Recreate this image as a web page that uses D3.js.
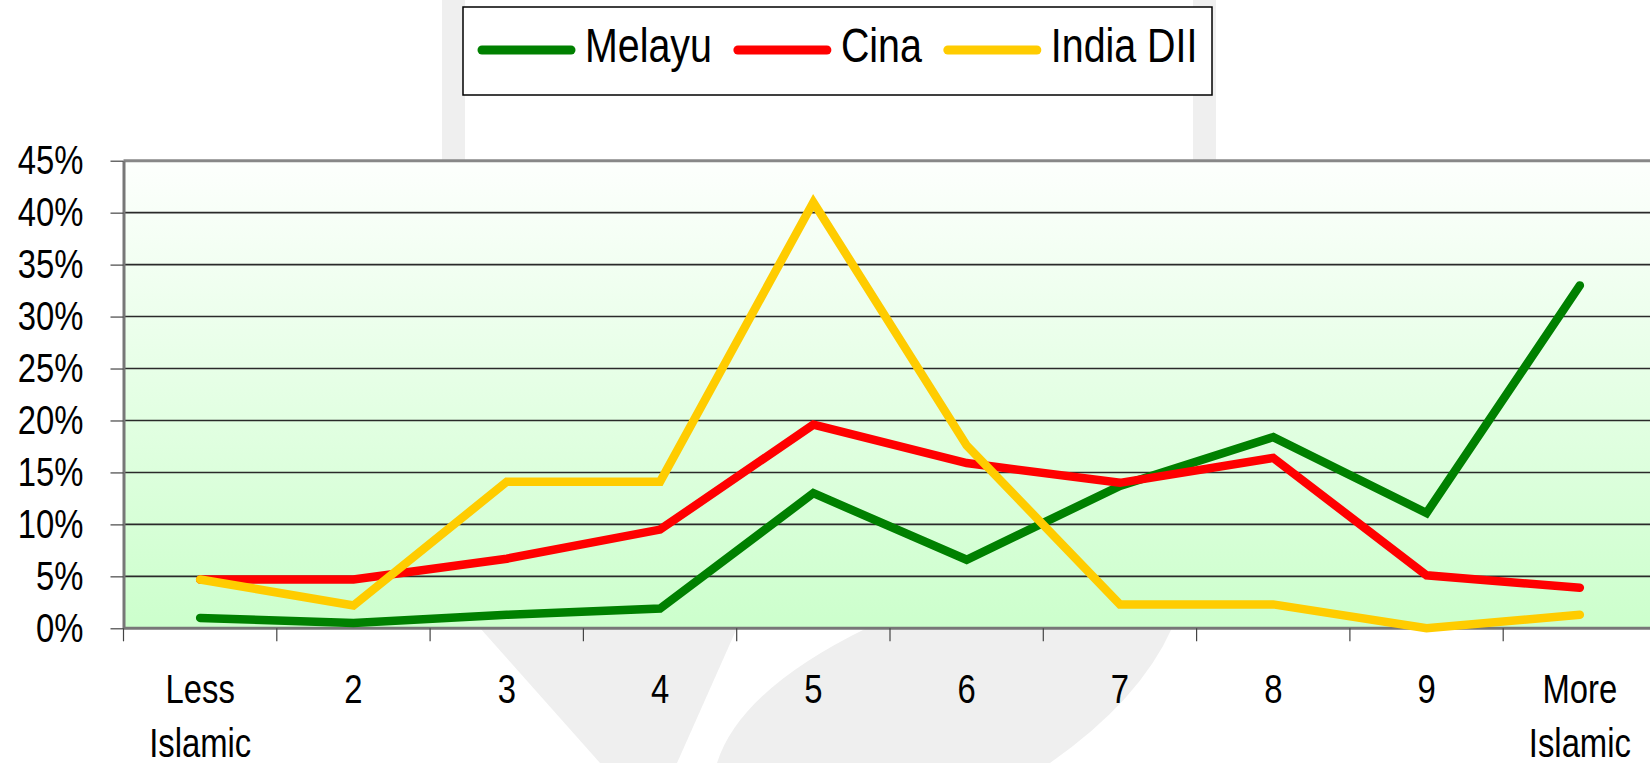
<!DOCTYPE html>
<html>
<head>
<meta charset="utf-8">
<script src="https://cdn.jsdelivr.net/npm/d3@7"></script>
<style>
  html, body { margin: 0; padding: 0; background: #fff; }
  svg { display: block; }
  text { font-family: "Liberation Sans", Arial, sans-serif; fill: #000; }
</style>
</head>
<body>
<div id="chart"></div>
<script>
// categories (x axis), two-line labels
const categories = ['Less\nIslamic', '2', '3', '4', '5', '6', '7', '8', '9', 'More\nIslamic'];

// series values in percent
const melayu = [1.0, 0.5, 1.3, 1.9, 13.0, 6.6, 13.7, 18.4, 11.1, 33.0];
const cina = [4.7, 4.7, 6.7, 9.5, 19.6, 15.9, 14.0, 16.4, 5.1, 3.9];
const indiaDll = [4.7, 2.2, 14.1, 14.1, 41.0, 17.6, 2.3, 2.3, 0.0, 1.3];

const seriesNames = ['Melayu', 'Cina', 'India DII'];
const seriesColors = ['#008000', '#ff0000', '#ffcc00'];
const yTicks = [0, 5, 10, 15, 20, 25, 30, 35, 40, 45];

const series = [melayu, cina, indiaDll].map((values, i) => ({
  name: seriesNames[i], color: seriesColors[i], values: values
}));

const width = 1650, height = 763;
const plot = { left: 123.5, right: 1656.5, top: 160.7, bottom: 628.3 };
const narrow = 0.82; // the original uses a narrow face

// squeeze text horizontally to mimic a narrow font
function condense(sel) {
  sel.each(function () {
    const len = this.getComputedTextLength();
    d3.select(this)
      .attr('textLength', len * narrow)
      .attr('lengthAdjust', 'spacingAndGlyphs');
  });
}

const svg = d3.select('#chart').append('svg')
  .attr('width', width)
  .attr('height', height);

// **faint watermark behind the chart**
const wm = svg.append('g').attr('fill', '#efefef');
wm.append('rect').attr('x', 442).attr('y', 0).attr('width', 23).attr('height', 162);
wm.append('rect').attr('x', 1193).attr('y', 0).attr('width', 23).attr('height', 162);
wm.append('path').attr('d', 'M480,628 L737,628 L677,763 L600,763 Z');
wm.append('path').attr('d', 'M867,628 L1172,628 Q1140,700 1050,763 L717,763 Q740,690 867,628 Z');

const x = d3.scaleBand()
  .domain(categories)
  .range([plot.left, plot.right])
  .padding(0);

const y = d3.scaleLinear()
  .domain([0, 45])
  .range([plot.bottom, plot.top]);

// **plot background gradient**
const grad = svg.append('defs').append('linearGradient')
  .attr('id', 'bg')
  .attr('x1', '0%').attr('y1', '0%')
  .attr('x2', '0%').attr('y2', '100%');
grad.append('stop').attr('offset', '0%').attr('stop-color', '#fdfffd');
grad.append('stop').attr('offset', '100%').attr('stop-color', '#ccffcc');

svg.append('rect')
  .attr('x', plot.left).attr('y', plot.top)
  .attr('width', plot.right - plot.left)
  .attr('height', plot.bottom - plot.top)
  .attr('fill', 'url(#bg)');

// **gridlines**
svg.append('g').selectAll('line')
  .data(yTicks.filter(d => d > 0 && d < 45))
  .join('line')
  .attr('x1', plot.left).attr('x2', plot.right)
  .attr('y1', d => y(d)).attr('y2', d => y(d))
  .attr('stroke', '#2a2a2a')
  .attr('stroke-width', 1.6);

// top border
svg.append('line')
  .attr('x1', plot.left).attr('x2', plot.right)
  .attr('y1', y(45)).attr('y2', y(45))
  .attr('stroke', '#888').attr('stroke-width', 3);

// **Y axis**
const yAxis = svg.append('g')
  .attr('transform', `translate(${plot.left},0)`)
  .call(d3.axisLeft(y).tickValues(yTicks).tickSize(13).tickSizeOuter(0).tickPadding(27).tickFormat(d => d + '%'));
yAxis.select('.domain').attr('stroke', '#777').attr('stroke-width', 3);
yAxis.selectAll('.tick line').attr('stroke', '#444').attr('stroke-width', 1.2);
yAxis.selectAll('.tick text')
  .attr('font-size', 40)
  .attr('dy', '0.33em')
  .attr('font-family', null)
  .call(condense);

// **X axis**
const xAxis = svg.append('g')
  .attr('transform', `translate(0,${plot.bottom})`);
xAxis.append('line')
  .attr('x1', plot.left).attr('x2', plot.right)
  .attr('stroke', '#777').attr('stroke-width', 3);
xAxis.selectAll('line.tick')
  .data(categories)
  .join('line')
  .attr('class', 'tick')
  .attr('x1', d => x(d)).attr('x2', d => x(d))
  .attr('y1', 0).attr('y2', 13)
  .attr('stroke', '#444').attr('stroke-width', 1.2);
xAxis.selectAll('g.lbl')
  .data(categories)
  .join('g')
  .attr('class', 'lbl')
  .attr('transform', d => `translate(${x(d) + x.bandwidth() / 2},0)`)
  .selectAll('text')
  .data(d => d.split('\n'))
  .join('text')
  .attr('text-anchor', 'middle')
  .attr('font-size', 40)
  .attr('y', (d, i) => 75 + i * 54)
  .text(d => d)
  .call(condense);

// **lines**
const line = d3.line()
  .x((d, i) => x(categories[i]) + x.bandwidth() / 2)
  .y(d => y(d));

svg.append('g').selectAll('path')
  .data(series)
  .join('path')
  .attr('fill', 'none')
  .attr('stroke', d => d.color)
  .attr('stroke-width', 8.5)
  .attr('stroke-linecap', 'round')
  .attr('stroke-linejoin', 'miter')
  .attr('d', d => line(d.values));

// **legend**
const legend = svg.append('g');
legend.append('rect')
  .attr('x', 463).attr('y', 7)
  .attr('width', 749).attr('height', 88)
  .attr('fill', '#fff')
  .attr('stroke', '#000').attr('stroke-width', 1.5);

let lx = 478;
series.forEach(s => {
  legend.append('line')
    .attr('x1', lx + 4).attr('x2', lx + 93)
    .attr('y1', 50).attr('y2', 50)
    .attr('stroke', s.color)
    .attr('stroke-width', 9)
    .attr('stroke-linecap', 'round');
  const t = legend.append('text')
    .attr('x', lx + 107).attr('y', 62)
    .attr('font-size', 48)
    .text(s.name)
    .call(condense);
  lx += 107 + (+t.attr('textLength')) + 22;
});
</script>
</body>
</html>
